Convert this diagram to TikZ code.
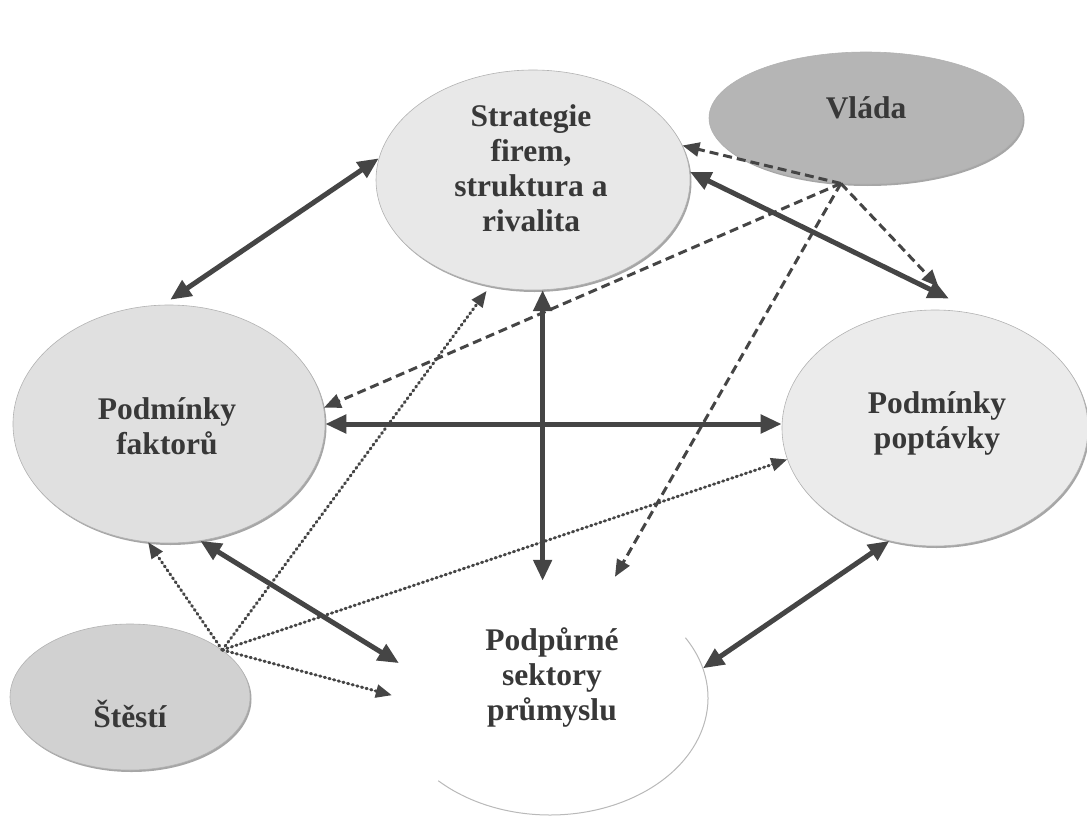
\documentclass[tikz,border=0pt]{standalone}
\usepackage{fontspec}
\setmainfont{Liberation Serif}
\usetikzlibrary{shapes.geometric,arrows.meta,shadows}
\definecolor{arr}{gray}{0.27}
\definecolor{txt}{gray}{0.22}
\definecolor{fS}{gray}{0.91}
\definecolor{fF}{gray}{0.88}
\definecolor{fP}{gray}{0.92}
\definecolor{fV}{gray}{0.71}
\definecolor{fL}{gray}{0.82}
\tikzset{
  ell/.style={ellipse, inner sep=0pt, draw=gray!60, line width=0.6pt,
    drop shadow={shadow xshift=1.5pt, shadow yshift=-2pt, opacity=1, fill=gray!70}},
  lbl/.style={font=\fontsize{31.5}{35}\selectfont\bfseries, text=txt, align=center, inner sep=0pt},
  thickarr/.style={line width=5pt, draw=arr,
    {Triangle[length=21pt,width=18pt]}-{Triangle[length=21pt,width=18pt]}},
  dasharr/.style={line width=3pt, draw=arr, dash pattern=on 9pt off 5pt,
    -{Triangle[length=17pt,width=14pt]}},
  dotarr/.style={line width=3pt, draw=arr, dash pattern=on 1.2pt off 3.6pt, line cap=round,
    -{Triangle[length=16pt,width=13pt]}},
  uarc/.style={draw=gray!55, line width=1pt}
}
\begin{document}
\begin{tikzpicture}[x=1pt,y=-1pt]
\useasboundingbox (0,0) rectangle (1087,816);

% ellipses
\node[ell, fill=fS, minimum width=314pt, minimum height=220pt] (S) at (533,180) {};
\node[ell, fill=fV, minimum width=314pt, minimum height=132pt] (V) at (866,118) {};
\node[ell, fill=fF, minimum width=312pt, minimum height=238pt] (F) at (169,424) {};
\node[ell, fill=fP, minimum width=306pt, minimum height=236pt] (P) at (935,428) {};
\node[ell, fill=fL, minimum width=240pt, minimum height=146pt] (St) at (130,697) {};
\node[ellipse, inner sep=0pt, fill=white, minimum width=316pt, minimum height=234pt] (U) at (550,698) {};
\draw[uarc] (U.center) ++(-31:158 and 117) arc[start angle=-31, end angle=135, x radius=158, y radius=117];

% labels
\node[lbl] (tS) at (531,168) {Strategie\\firem,\\struktura a\\rivalita};
\node[lbl] (tV) at (866,108) {Vláda};
\node[lbl] (tF) at (167,426) {Podmínky\\faktorů};
\node[lbl] (tP) at (937,423) {Podmínky\\poptávky};
\node[lbl] (tSt) at (130,714) {Štěstí};
\node[lbl] (tU) at (552,677) {Podpůrné\\sektory\\průmyslu};

% thick two-way arrows
\draw[thickarr, shorten >=9pt] (S.172) -- (F.93);
\draw[thickarr, shorten >=40pt] (S.3.6) -- (P.66);
\draw[thickarr] (S.-85) -- (S.-85 |- U.north);
\draw[thickarr] (F.east) -- (F.east -| P.west);
\draw[thickarr] (F.-75) -- (U.167);
\draw[thickarr] (P.-112) -- (U.11);

% dashed arrows from Vlada
\draw[dasharr] (V.-111) -- (S.13);
\draw[dasharr] (V.-111) -- (F.6);
\draw[dasharr, shorten >=14pt] (V.-111) -- (U.62);
\draw[dasharr, shorten >=34pt] (V.-111) -- (P.77);

% dotted arrows from Stesti
\draw[dotarr] (St.27) -- (F.-100);
\draw[dotarr, shorten >=6pt] (St.27) -- (S.-112);
\draw[dotarr] (St.27) -- (P.-168);
\draw[dotarr] (St.27) -- (U.179);
\end{tikzpicture}
\end{document}
